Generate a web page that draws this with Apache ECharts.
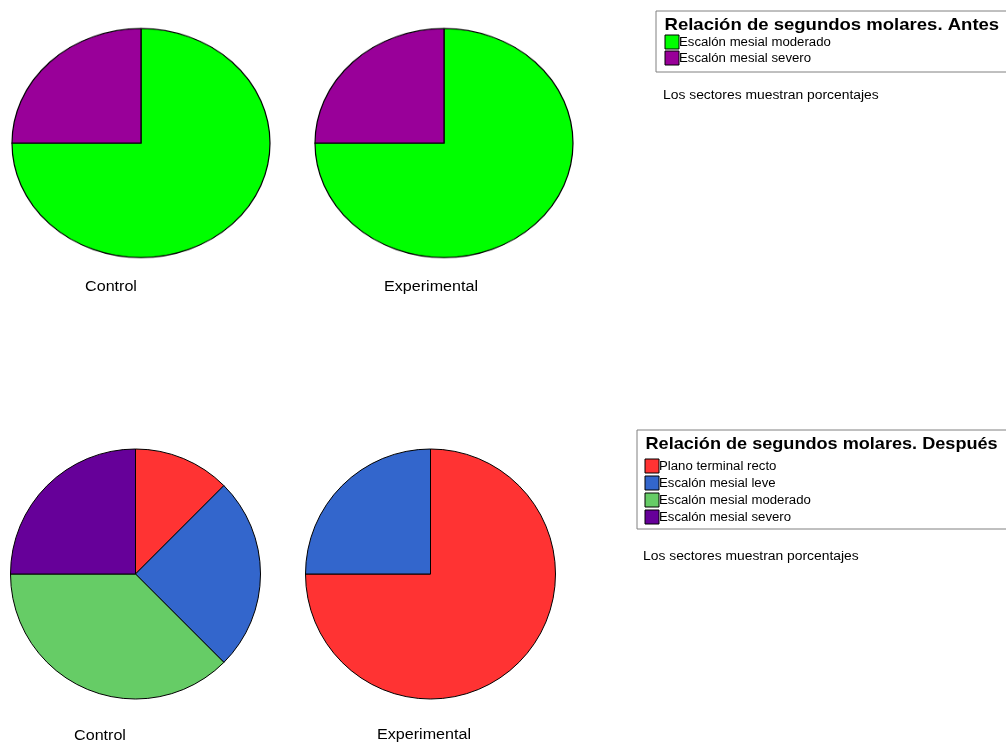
<!DOCTYPE html>
<html><head><meta charset="utf-8">
<script src="https://cdn.jsdelivr.net/npm/echarts@6/dist/echarts.min.js"></script>
<style>html,body{margin:0;padding:0;background:#fff;}#main{position:absolute;left:0;top:0;width:1006px;height:745px;}#top{position:absolute;left:0;top:0;width:620px;height:320px;transform:scaleY(0.8876);transform-origin:0 0;}</style>
</head><body>
<div id="main"></div><div id="top"></div>
<script>
// ---- data ----
var groups = ['Control', 'Experimental'];
var antesCategories = ['Escalón mesial moderado', 'Escalón mesial severo'];
var antesColors = ['#00FF00', '#990099'];
var antesControl = [75, 25];
var antesExperimental = [75, 25];
var despuesCategories = ['Plano terminal recto', 'Escalón mesial leve', 'Escalón mesial moderado', 'Escalón mesial severo'];
var despuesColors = ['#FF3333', '#3366CC', '#66CC66', '#660099'];
var despuesControl = [12.5, 25, 37.5, 25];
var despuesExperimental = [75, 25, 0, 0];
var antesTitle = 'Relación de segundos molares. Antes';
var despuesTitle = 'Relación de segundos molares. Después';
var note = 'Los sectores muestran porcentajes';

function mk(cats, vals, cols) {
  var out = [];
  for (var i = 0; i < cats.length; i++) {
    if (vals[i] > 0) out.push({name: cats[i], value: vals[i], itemStyle: {color: cols[i]}});
  }
  return out;
}
function pie(center, r, data, bw) {
  return {type: 'pie', center: center, radius: r, startAngle: 90, clockwise: true,
    silent: true, animation: false, label: {show: false}, labelLine: {show: false},
    itemStyle: {borderColor: '#000', borderWidth: bw}, data: data};
}

// top (elliptical) pies in scaled container
var topChart = echarts.init(document.getElementById('top'));
topChart.setOption({
  animation: false,
  series: [
    pie([141, 161.2], 129, mk(antesCategories, antesControl, antesColors), 1.2),
    pie([444, 161.2], 129, mk(antesCategories, antesExperimental, antesColors), 1.2)
  ]
});

var FONT = '"Liberation Sans", Arial, sans-serif';
function txt(x, y, s, size, sx, bold, align) {
  return {type: 'text', x: x, y: y, scaleX: sx, style: {text: s, font: (bold ? 'bold ' : '') + size + 'px ' + FONT,
    fill: '#000', textAlign: align || 'left', textVerticalAlign: 'middle'}};
}
function legendGraphics(x, y, w, h, title, titleScale, cats, cols, textX, firstY, step, noteX, noteY) {
  var g = [];
  g.push({type: 'rect', left: x, top: y, shape: {width: w, height: h}, style: {fill: '#fff', stroke: '#808080', lineWidth: 1}});
  g.push(txt(x + 9, y + 15, title, 17, titleScale, true));
  for (var i = 0; i < cats.length; i++) {
    var cy = firstY + i * step;
    g.push({type: 'rect', shape: {x: textX - 14, y: cy - 7, width: 14, height: 14}, style: {fill: cols[i], stroke: '#000', lineWidth: 1}});
    g.push(txt(textX, cy + 0.5, cats[i], 12, 1.10, false));
  }
  g.push(txt(noteX, noteY, note, 12, 1.155, false));
  return g;
}

var g = [];
g = g.concat(legendGraphics(655.5, 10.5, 360, 61, antesTitle, 1.09, antesCategories, antesColors, 679, 42, 16, 663, 96));
g = g.concat(legendGraphics(636.5, 429.5, 380, 99, despuesTitle, 1.065, despuesCategories, despuesColors, 659, 466, 17, 643, 557));
var labelPos = [[111, 287], [431, 287], [100, 736], [424, 735]];
var labs = [groups[0], groups[1], groups[0], groups[1]];
for (var k = 0; k < labs.length; k++) {
  g.push(txt(labelPos[k][0], labelPos[k][1], labs[k], 14, 1.15, false, 'center'));
}

var main = echarts.init(document.getElementById('main'));
main.setOption({
  animation: false,
  backgroundColor: '#fff',
  graphic: g,
  series: [
    pie([135.5, 574], 125, mk(despuesCategories, despuesControl, despuesColors), 1),
    pie([430.5, 574], 125, mk(despuesCategories, despuesExperimental, despuesColors), 1)
  ]
});
</script>
</body></html>
